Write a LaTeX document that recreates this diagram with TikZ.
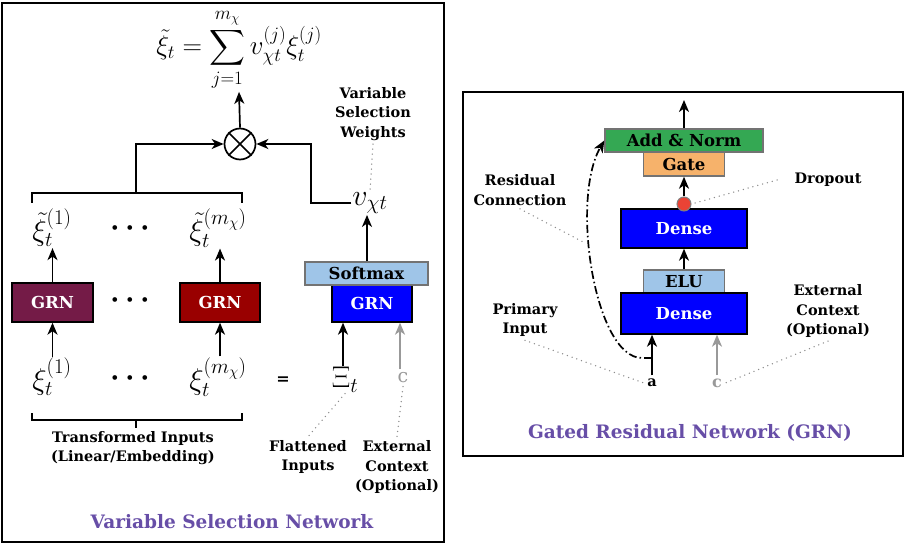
\RequirePackage{fix-cm}
\documentclass[tikz,border=0pt]{standalone}
\usepackage{amsmath}
\usepackage[no-math]{fontspec}
\setmainfont{DejaVu Serif}
\usepackage{xcolor}
\usetikzlibrary{arrows.meta, positioning}
\definecolor{grnwine}{HTML}{741B47}
\definecolor{grnred}{HTML}{990000}
\definecolor{denseblue}{HTML}{0000FF}
\definecolor{paleblue}{HTML}{9FC5E8}
\definecolor{addgreen}{HTML}{34A853}
\definecolor{gateorange}{HTML}{F6B26B}
\definecolor{dropred}{HTML}{EA4335}
\definecolor{titlepurple}{HTML}{674EA7}

\begin{document}
\begin{tikzpicture}[
                    x=1pt, y=-1pt,
                    box/.style={
                        draw,
                        line width=1.4pt,
                        inner sep=0pt,
                        text=white,
                        font=\fontsize{16.5}{18}\selectfont\bfseries
                    },
                    softbox/.style={
                        draw=black!55,
                        line width=1.4pt,
                        inner sep=0pt,
                        font=\fontsize{16.5}{18}\selectfont\bfseries
                    },
                    arrow/.style={
                        -{Stealth[length=12pt,width=10pt,inset=3.5pt]},
                        line width=1.7pt
                    },
                    resid/.style={
                        line width=1.6pt,
                        dash pattern=on 8pt off 3pt on 1.5pt off 3pt
                    },
                    note/.style={
                        align=center,
                        font=\fontsize{14.5}{19.5}\selectfont\bfseries
                    },
                    hint/.style={
                        draw=black!45,
                        line width=1.5pt,
                        line cap=round,
                        dash pattern=on 0pt off 5pt
                    },
                    sym/.style={
                        inner sep=1pt,
                        font=\fontsize{30}{34}\selectfont
                    },
                    title/.style={
                        font=\fontsize{18.5}{22}\selectfont\bfseries,
                        text=titlepurple
                    },
                    frame/.style={
                        draw,
                        line width=1.7pt
                    }
                ]
                \useasboundingbox (0,0) rectangle (905,545);

                % Cadres
                \draw[frame] (2,3) rectangle (444,542);
                \draw[frame] (463,92) rectangle (903,456);

                % Variable selection network
                \node[sym, font=\fontsize{27}{30}\selectfont] (sum) at (239,50) {$\displaystyle \tilde{\xi}_t = \sum_{j=1}^{m_\chi} v_{\chi t}^{(j)} \xi_t^{(j)}$};
                \node[circle, draw, line width=1.7pt, minimum size=31pt, inner sep=0pt] (prod) at (240,144) {};
                \draw[line width=1.6pt] (prod.north west) -- (prod.south east) (prod.north east) -- (prod.south west);
                \draw[arrow] (prod.north) -- (sum.south);

                \node[sym] (xt1) at (52,228) {$\tilde{\xi}_t^{(1)}$};
                \node[sym] (xtdots) at (133,228) {$\boldsymbol{\cdots}$};
                \node[sym] (xtm) at (218,228) {$\tilde{\xi}_t^{(m_\chi)}$};
                \draw[line width=1.7pt] (32,203) |- (242,193) -- (242,203);
                \coordinate (fork) at (136,193);
                \draw[arrow] (fork) |- (prod.west);

                \node[sym] (v) at (370,203) {$v_{\chi t}$};
                \draw[arrow] (v.west) -- ++(-40,0) |- (prod.east);
                \node[note] (wts) at (373,114) {Variable\\Selection\\Weights};
                \draw[hint] (wts.south) -- (v.north);

                \node[box, fill=grnwine, minimum width=81pt, minimum height=39pt] (grn1) at (52.5,302.5) {GRN};
                \node[sym] (grndots) at (133,300) {$\boldsymbol{\cdots}$};
                \node[box, fill=grnred, minimum width=80pt, minimum height=39pt] (grn2) at (220,302.5) {GRN};
                \node[box, fill=denseblue, minimum width=80pt, minimum height=37pt] (grn3) at (372,303.5) {GRN};
                \node[softbox, fill=paleblue, minimum width=123pt, minimum height=23pt] (soft) at (366.5,273.5) {Softmax};

                \draw[arrow] (grn1.north) -- (xt1.south -| grn1.north);
                \draw[arrow] (grn2.north) -- (xtm.south -| grn2.north);
                \draw[arrow] (soft.north -| 367,0) -- (v.south -| 367,0);

                \node[sym] (x1) at (52,377) {$\xi_t^{(1)}$};
                \node[sym] (xdots) at (133,378) {$\boldsymbol{\cdots}$};
                \node[sym] (xm) at (218,377) {$\xi_t^{(m_\chi)}$};
                \node[note, font=\fontsize{16}{18}\selectfont\bfseries] (eq) at (283,381) {=};
                \node[sym] (Xi) at (345,380) {$\Xi_t$};
                \node[note, text=black!40, font=\fontsize{19}{20}\selectfont] (c) at (403,378) {c};

                \draw[arrow] (x1.north -| grn1.south) -- (grn1.south);
                \draw[arrow] (xm.north -| grn2.south) -- (grn2.south);
                \draw[arrow] (Xi.north -| 343,0) -- (grn3.south -| 343,0);
                \draw[arrow, black!40] (c.north -| 400,0) -- (grn3.south -| 400,0);

                \draw[line width=1.7pt] (32,413) |- (242,420) -- (242,413);
                \draw[line width=1.7pt] (136,420) -- (136,428);
                \node[note] (trans) at (133,448) {Transformed Inputs\\(Linear/Embedding)};
                \node[note] (flat) at (308,457) {Flattened\\Inputs};
                \node[note] (ext) at (397,467) {External\\Context\\(Optional)};
                \draw[hint] (Xi.south) -- (flat.north);
                \draw[hint] (c.south) -- (ext.north);

                \node[title] (vsn) at (232,522) {Variable Selection Network};

                % Gated residual network
                \node[softbox, fill=addgreen, minimum width=158pt, minimum height=23pt] (addnorm) at (684,140.5) {Add \& Norm};
                \node[softbox, fill=gateorange, minimum width=81pt, minimum height=24pt] (gate) at (684,164) {Gate};
                \node[box, fill=denseblue, minimum width=126pt, minimum height=39pt] (dense1) at (684,228.5) {Dense};
                \node[softbox, fill=paleblue, minimum width=81pt, minimum height=23pt] (elu) at (684,281.5) {ELU};
                \node[box, fill=denseblue, minimum width=126pt, minimum height=41pt] (dense2) at (684,313.5) {Dense};
                \node[circle, draw=black!50, fill=dropred, line width=1pt, minimum size=14pt, inner sep=0pt] (drop) at (684,204) {};
                \coordinate (out) at (684,100);

                \draw[arrow] (addnorm.north) -- (out);
                \draw[arrow] (drop.north) -- (gate.south);
                \draw[arrow] (elu.north) -- (dense1.south);

                \node[note] (a) at (652,383) {a};
                \node[note, text=black!40, font=\fontsize{16}{18}\selectfont\bfseries] (c2) at (717,383) {c};
                \coordinate (split) at (652,358);
                \draw[arrow] (a.north) -- (a.north |- dense2.south);
                \draw[arrow, black!40] (c2.north) -- (c2.north |- dense2.south);
                \draw[resid, arrow] (split) -- ++(-10,0) .. controls (595,358) and (570,200) .. (addnorm.west);

                \node[note] (drop lbl) at (828,180) {Dropout};
                \node[note] (res lbl) at (520,190) {Residual\\Connection};
                \node[note] (pin) at (525,320) {Primary\\Input};
                \node[note] (ctx) at (828,311) {External\\Context\\(Optional)};
                \coordinate (rc) at (585,243);
                \draw[hint] ([xshift=-14pt]drop lbl.west) -- (drop.east);
                \draw[hint] (res lbl.south) -- (rc);
                \draw[hint] (pin.south) -- (a.west);
                \draw[hint] (ctx.south) -- (c2.east);

                \node[title] (gtitle) at (690,433) {Gated Residual Network (GRN)};

            \end{tikzpicture}
\end{document}
